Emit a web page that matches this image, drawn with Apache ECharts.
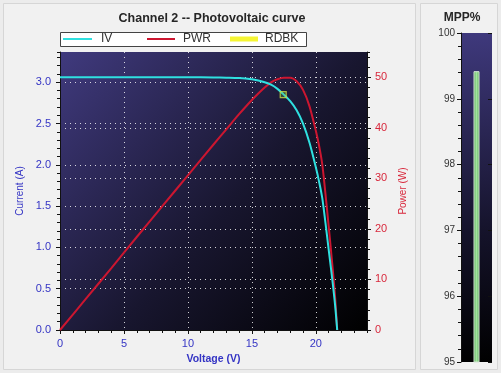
<!DOCTYPE html>
<html>
<head>
<meta charset="utf-8">
<script src="https://cdn.jsdelivr.net/npm/echarts@6/dist/echarts.min.js"></script>
<style>
  html, body { margin: 0; padding: 0; background: #ececec; }
  #chart { width: 501px; height: 373px; }
</style>
</head>
<body>
<div id="chart"></div>
<script>
// values
const voltage = [0, 2, 4, 6, 8, 10, 12, 13, 14, 15, 15.5, 16, 16.5, 17, 17.5, 18, 18.5, 19, 19.5, 20, 20.25, 20.5, 20.75, 21, 21.25, 21.5, 21.67]
const current = [3.06, 3.06, 3.06, 3.06, 3.06, 3.06, 3.058, 3.055, 3.05, 3.035, 3.02, 3.0, 2.97, 2.92, 2.85, 2.77, 2.66, 2.5, 2.27, 1.97, 1.8, 1.6, 1.3, 0.98, 0.66, 0.31, 0]
const power = [0, 6.1, 12.2, 18.4, 24.5, 30.6, 36.7, 39.7, 42.7, 45.5, 46.8, 48.0, 49.0, 49.6, 49.9, 49.9, 49.2, 47.5, 44.3, 39.4, 36.5, 32.8, 27.0, 20.6, 14.0, 6.7, 0]
const rdbkPoint = [17.45, 2.85]
const mppCategory = ['MPP']
const mppValue = [99.42]

const BLUE = '#3434c4'
const RED = '#d8283c'
const FONT = 'Liberation Sans'

const chart = echarts.init(document.getElementById('chart'))

const dotted = { color: 'rgba(255,255,255,0.8)', width: 1, type: [1, 4] }
const plotBg = new echarts.graphic.LinearGradient(0, 0, 1, 1, [
  { offset: 0, color: '#403a7e' },
  { offset: 0.55, color: '#18162f' },
  { offset: 1, color: '#000000' }
])
const mppBg = new echarts.graphic.LinearGradient(0, 0, 1, 1, [
  { offset: 0, color: '#3f397d' },
  { offset: 0.6, color: '#15132b' },
  { offset: 1, color: '#000000' }
])

// axes that only draw ticks (minor ticks etc.)
function tickAxis(extra) {
  return Object.assign({
    type: 'value',
    axisLine: { show: false },
    axisLabel: { show: false },
    splitLine: { show: false },
    axisTick: { show: true, length: 3, lineStyle: { color: '#111' } }
  }, extra)
}

const xy = v => v.map((x, i) => [x, current[i]])
const xp = v => v.map((x, i) => [x, power[i]])

chart.setOption({
  animation: false,
  backgroundColor: '#ececec',
  textStyle: { fontFamily: FONT },
  graphic: [
    { type: 'rect', z: -10, shape: { x: 3.5, y: 3.5, width: 412, height: 366 }, style: { fill: '#f1f1f1', stroke: '#d6d6d6', lineWidth: 1 } },
    { type: 'rect', z: -10, shape: { x: 420.5, y: 3.5, width: 77, height: 366 }, style: { fill: '#f1f1f1', stroke: '#d6d6d6', lineWidth: 1 } },
    { type: 'rect', z: 1, shape: { x: 60.5, y: 32.5, width: 246, height: 14 }, style: { fill: '#ffffff', stroke: '#444', lineWidth: 1 } }
  ],
  title: [
    {
      text: 'Channel 2 -- Photovoltaic curve', left: 212, top: 12, textAlign: 'center', padding: 0,
      textStyle: { fontSize: 12.5, fontWeight: 'bold', color: '#262626', fontFamily: FONT }
    },
    {
      text: 'MPP%', left: 462, top: 12, textAlign: 'center', padding: 0,
      textStyle: { fontSize: 12, fontWeight: 'bold', color: '#262626', fontFamily: FONT }
    }
  ],
  legend: [
    {
      data: [{ name: 'IV', icon: 'rect' }], left: 63, top: 33, padding: 0, selectedMode: false, z: 5,
      itemWidth: 29, itemHeight: 2, textStyle: { color: '#333', fontSize: 12, padding: [0, 0, 0, 4] }
    },
    {
      data: [{ name: 'PWR', icon: 'rect' }], left: 147, top: 33, padding: 0, selectedMode: false, z: 5,
      itemWidth: 28, itemHeight: 2, textStyle: { color: '#333', fontSize: 12, padding: [0, 0, 0, 3] }
    },
    {
      data: [{ name: 'RDBK', icon: 'rect', itemStyle: { color: '#f2f200', borderWidth: 0 } }], left: 230, top: 33, padding: 0, selectedMode: false, z: 5,
      itemWidth: 28, itemHeight: 5, textStyle: { color: '#333', fontSize: 12, padding: [0, 0, 0, 2] }
    }
  ],
  grid: [
    { left: 60, top: 52, width: 307, height: 278, show: true, borderWidth: 0, backgroundColor: plotBg },
    { left: 461, top: 33, width: 31, height: 329, show: true, borderWidth: 0, backgroundColor: mppBg }
  ],
  xAxis: [
    {
      gridIndex: 0, type: 'value', min: 0, max: 24, interval: 5,
      axisLine: { lineStyle: { color: '#111' } },
      axisTick: { length: 4, lineStyle: { color: '#111' } },
      axisLabel: { color: BLUE, fontSize: 11, margin: 8, showMaxLabel: false },
      splitLine: { show: true, showMinLine: false, showMaxLine: false, lineStyle: dotted },
      name: 'Voltage (V)', nameLocation: 'middle', nameGap: 23,
      nameTextStyle: { color: BLUE, fontSize: 10.5, fontWeight: 'bold' }
    },
    tickAxis({ gridIndex: 0, position: 'bottom', min: 0, max: 24, interval: 1 }),
    { gridIndex: 1, type: 'category', data: mppCategory, show: false }
  ],
  yAxis: [
    {
      gridIndex: 0, type: 'value', position: 'left', min: 0, max: 3.366, interval: 0.5,
      axisLine: { show: true, lineStyle: { color: '#111' } },
      axisTick: { show: true, length: 4, lineStyle: { color: '#111' } },
      axisLabel: { color: BLUE, fontSize: 11, margin: 9, showMaxLabel: false, formatter: v => v.toFixed(1) },
      splitLine: { show: true, showMinLine: false, showMaxLine: false, lineStyle: dotted },
      name: 'Current (A)', nameLocation: 'middle', nameGap: 27,
      nameTextStyle: { color: BLUE, fontSize: 10 }
    },
    tickAxis({ gridIndex: 0, position: 'left', min: 0, max: 3.366, interval: 0.1 }),
    {
      gridIndex: 0, type: 'value', position: 'right', min: 0, max: 55, interval: 10,
      axisLine: { show: true, lineStyle: { color: '#111' } },
      axisTick: { show: true, length: 4, lineStyle: { color: '#111' } },
      axisLabel: { color: RED, fontSize: 11, margin: 8, showMaxLabel: false },
      splitLine: { show: true, showMinLine: false, showMaxLine: false, lineStyle: dotted },
      name: 'Power (W)', nameLocation: 'middle', nameGap: 28,
      nameTextStyle: { color: RED, fontSize: 10 }
    },
    tickAxis({ gridIndex: 0, position: 'right', min: 0, max: 55, interval: 2 }),
    {
      gridIndex: 1, type: 'value', position: 'left', min: 95, max: 100, interval: 1,
      axisLine: { show: true, lineStyle: { color: '#111' } },
      axisTick: { show: true, length: 4, lineStyle: { color: '#111' } },
      axisLabel: { color: '#333', fontSize: 10, margin: 6 },
      splitLine: { show: false }
    },
    tickAxis({ gridIndex: 1, position: 'left', min: 95, max: 100, interval: 0.2 }),
    tickAxis({
      gridIndex: 1, position: 'right', min: 95, max: 100, interval: 1,
      axisTick: { show: true, inside: true, length: 4, lineStyle: { color: '#111' } }
    })
  ],
  series: [
    {
      name: 'IV', type: 'line', xAxisIndex: 0, yAxisIndex: 0, data: xy(voltage),
      smooth: 0.3, showSymbol: false, z: 3,
      lineStyle: { color: '#2fe0e0', width: 2 }, itemStyle: { color: '#2fe0e0' }
    },
    {
      name: 'PWR', type: 'line', xAxisIndex: 0, yAxisIndex: 2, data: xp(voltage),
      smooth: 0.3, showSymbol: false, z: 2,
      lineStyle: { color: '#cc1630', width: 2 }, itemStyle: { color: '#cc1630' }
    },
    {
      name: 'RDBK', type: 'scatter', xAxisIndex: 0, yAxisIndex: 0, data: [rdbkPoint],
      symbol: 'rect', symbolSize: 6, z: 4,
      itemStyle: { color: 'rgba(120,200,80,0.35)', borderColor: '#c8e040', borderWidth: 1.2 }
    },
    {
      name: 'MPP', type: 'bar', xAxisIndex: 2, yAxisIndex: 4, data: mppValue,
      barWidth: 6, clip: true,
      itemStyle: {
        color: new echarts.graphic.LinearGradient(0, 0, 1, 0, [
          { offset: 0, color: '#4ea84e' },
          { offset: 0.5, color: '#a2e29e' },
          { offset: 1, color: '#4ea84e' }
        ]),
        borderColor: '#d4e4d4', borderWidth: 1
      }
    }
  ]
})
</script>
</body>
</html>
